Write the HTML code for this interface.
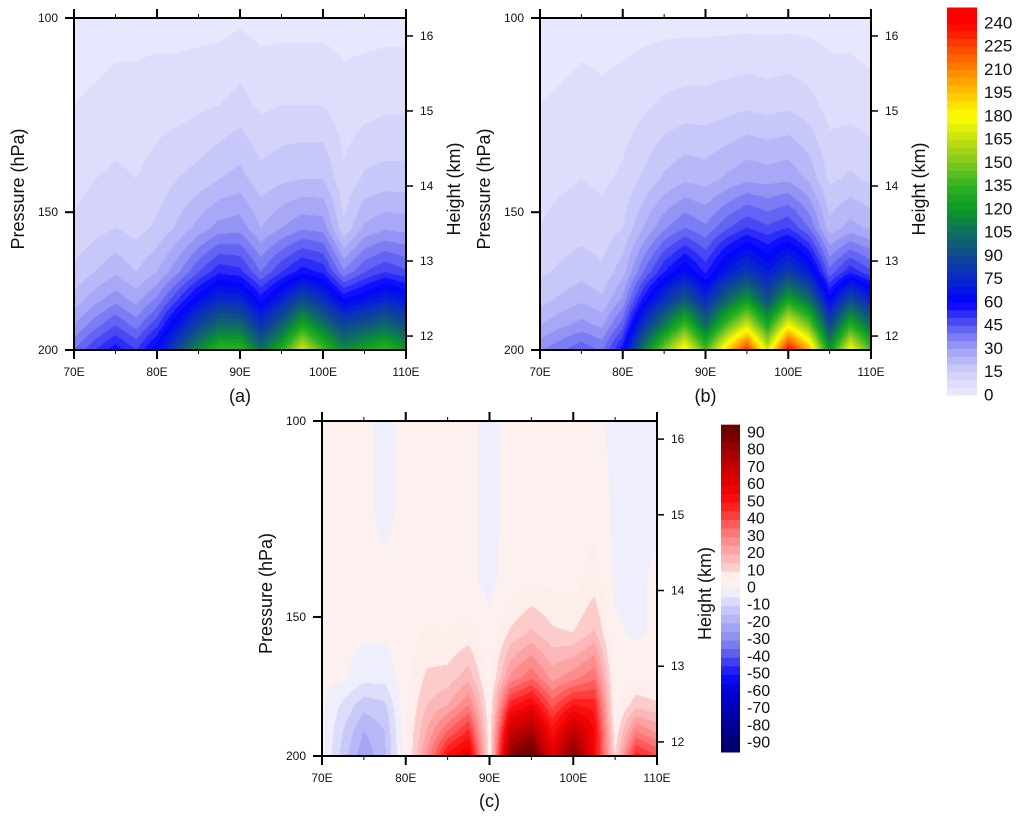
<!DOCTYPE html>
<html><head><meta charset="utf-8">
<style>
html,body{margin:0;padding:0;background:#fff;}
#wrap{position:relative;width:1024px;height:820px;overflow:hidden;font-family:"Liberation Sans",sans-serif;}
canvas{position:absolute;}
svg{position:absolute;left:0;top:0;}
</style></head>
<body>
<div id="wrap">
<canvas id="cva"></canvas>
<canvas id="cvb"></canvas>
<canvas id="cvc"></canvas>
<svg id="ov" width="1024" height="820"></svg>
</div>
<script>
// ---- data ----
const lons = [70,72.5,75,77.5,80,82.5,85,87.5,90,92.5,95,97.5,100,102.5,105,107.5,110];
const levels = [100,120,140,155,170,180,190,200];
const fieldA = [
[2,2,3,3,3,3,3,3,4,3,3,3,3,3,3,3,3],
[5,6,7,7,8,8,9,10,12,9,10,10,10,7,8,9,9],
[8,10,11,10,12,15,17,20,22,17,19,20,20,11,16,17,17],
[11,13,15,13,16,21,27,32,33,25,30,34,33,16,26,29,28],
[16,20,24,20,25,34,45,54,52,40,50,58,54,36,45,50,46],
[22,28,33,28,36,50,64,76,74,58,72,90,78,60,66,74,68],
[30,38,45,38,49,68,88,103,102,80,99,128,106,88,95,103,92],
[40,50,58,50,64,90,115,135,135,105,130,170,140,115,125,135,120]];
const fieldB = [
[2,2,3,3,3,3,3,3,3,3,3,3,3,3,3,3,2],
[5,6,7,6,7,9,11,12,12,13,14,13,14,12,8,8,7],
[8,9,10,9,11,16,21,24,23,26,29,28,29,24,14,16,14],
[10,12,13,12,15,25,34,40,36,44,50,46,50,40,22,27,24],
[14,16,18,16,23,40,55,66,54,70,82,70,84,70,42,54,46],
[18,21,24,21,31,57,78,96,75,100,120,92,124,104,62,90,72],
[25,29,32,29,43,80,110,138,103,140,170,128,178,148,88,132,103],
[34,39,44,39,58,110,150,185,140,190,230,170,240,200,120,180,140]];
const fieldC = [
[1,1,1,-1,1,1,1,1,-1,1,1,1,1,1,-1,-1,-1],
[1,1,1,-1,1,1,1,1,-1,1,2,2,2,3,-1,-1,-1],
[1,1,1,1,1,1,1,1,-1,2,5,4,3,8,-1,-1,1],
[1,1,1,1,2,6,5,7,1,11,16,11,10,16,1,-1,1],
[1,1,-3,-3,3,11,12,18,3,26,34,23,28,34,2,5,4],
[1,-6,-13,-11,4,15,20,30,5,48,56,38,50,48,3,13,11],
[1,-10,-20,-15,4,20,35,46,6,70,78,52,72,55,6,30,24],
[1,-12,-24,-16,3,26,52,62,6,85,95,62,88,55,10,48,40]];
const lonTicks = [70,80,90,100,110];
const lonLabels = ["70E","80E","90E","100E","110E"];
const presTicks = [100,150,200];
const hgtTicks = [16,15,14,13,12];
const cbLabelsAB = [240,225,210,195,180,165,150,135,120,105,90,75,60,45,30,15,0];
const cbLabelsC = [90,80,70,60,50,40,30,20,10,0,-10,-20,-30,-40,-50,-60,-70,-80,-90];

// ---- colormaps ----
const stopsAB = [[0,"#ececfd"],[15,"#cfcffa"],[30,"#a0a0f5"],[45,"#5858f2"],[60,"#0000ff"],[75,"#0a28cc"],[90,"#0e4a8e"],[105,"#0f6e62"],[120,"#0a9a24"],[135,"#2eb222"],[150,"#80c820"],[165,"#c2e010"],[180,"#ffff00"],[195,"#ffc200"],[210,"#ff8400"],[225,"#ff4400"],[240,"#ff0000"]];
const stopsC = [[-90,"#000070"],[-80,"#000098"],[-70,"#0000b4"],[-60,"#0000da"],[-50,"#1010f8"],[-40,"#5050ee"],[-30,"#8a8af2"],[-20,"#aeaef6"],[-10,"#d0d0fa"],[-5,"#e8e8fc"],[0,"#f3f3fd"],[0.01,"#fdf2f0"],[8,"#fdeeec"],[10,"#fcd6d4"],[20,"#fcaeae"],[30,"#fd8282"],[40,"#fe4c4c"],[50,"#ff1010"],[60,"#e80000"],[70,"#c80000"],[80,"#a00000"],[90,"#700000"]];
function hex(h){return [parseInt(h.substr(1,2),16),parseInt(h.substr(3,2),16),parseInt(h.substr(5,2),16)];}
function cmap(stops,v){
  if(v<=stops[0][0]) return hex(stops[0][1]);
  for(let i=1;i<stops.length;i++){
    if(v<=stops[i][0]){const a=stops[i-1],b=stops[i];const t=(v-a[0])/(b[0]-a[0]);const c1=hex(a[1]),c2=hex(b[1]);
      return [0,1,2].map(k=>Math.round(c1[k]+(c2[k]-c1[k])*t));}
  }
  return hex(stops[stops.length-1][1]);
}
function quant(v,step,neg){
  if(neg){ if(v>=0) return Math.floor(v/step)*step+step*0.5; return Math.ceil(v/step)*step-step*0.5; }
  return Math.floor(v/step)*step+step*0.5;
}
function interp(field,lon,p){
  let i=0; while(i<lons.length-2 && lon>lons[i+1]) i++;
  let j=0; while(j<levels.length-2 && p>levels[j+1]) j++;
  const tx=Math.max(0,Math.min(1,(lon-lons[i])/(lons[i+1]-lons[i])));
  const ty=Math.max(0,Math.min(1,(Math.log(p)-Math.log(levels[j]))/(Math.log(levels[j+1])-Math.log(levels[j]))));
  const a=field[j][i],b=field[j][i+1],c=field[j+1][i],d=field[j+1][i+1];
  return (a*(1-tx)+b*tx)*(1-ty)+(c*(1-tx)+d*tx)*ty;
}
const NS="http://www.w3.org/2000/svg";
const ov=document.getElementById('ov');
function el(tag,attrs,parent){const e=document.createElementNS(NS,tag);for(const k in attrs)e.setAttribute(k,attrs[k]);(parent||ov).appendChild(e);return e;}
function txt(s,x,y,size,anchor,parent,rot){const t=el('text',{x:x,y:y,'font-size':size,'text-anchor':anchor||'middle','dominant-baseline':'central',fill:'#111','font-family':'"Liberation Sans",sans-serif'},parent);if(rot)t.setAttribute('transform','rotate(-90 '+x+' '+y+')');t.textContent=s;return t;}

function panel(id,field,stops,step,neg,L,T,W,H,letter,letterY){
  const xs=lon=>L+(lon-70)/40*W;
  const ys=p=>T+Math.log(p/100)/Math.log(2)*H;
  const cv=document.getElementById(id);cv.width=W;cv.height=H;cv.style.left=L+'px';cv.style.top=T+'px';
  const ctx=cv.getContext('2d');const img=ctx.createImageData(W,H);
  for(let y=0;y<H;y++){const p=100*Math.pow(2,(y+0.5)/H);
    for(let x=0;x<W;x++){const lon=70+40*(x+0.5)/W;
      const v=quant(interp(field,lon,p),step,neg);const c=cmap(stops,v);const o=(y*W+x)*4;
      img.data[o]=c[0];img.data[o+1]=c[1];img.data[o+2]=c[2];img.data[o+3]=255;}}
  ctx.putImageData(img,0,0);
  const g=el('g',{});
  
  
  const fr=el('rect',{x:L,y:T,width:W,height:H,fill:'none',stroke:'#000','stroke-width':2},g);
  
  
  for(let lon=70;lon<=110;lon+=5){const x=xs(lon);const maj=lon%10===0;const len=maj?9:4;
    el('line',{x1:x,y1:T+H,x2:x,y2:T+H+len,stroke:'#000','stroke-width':maj?2:1},g);
    el('line',{x1:x,y1:T,x2:x,y2:T-len,stroke:'#000','stroke-width':maj?2:1},g);}
  lonTicks.forEach((lon,i)=>{const t=txt(lonLabels[i],xs(lon),T+H+22,12,'middle',g);
    
    });
  presTicks.forEach(p=>{const y=ys(p);el('line',{x1:L-9,y1:y,x2:L,y2:y,stroke:'#000','stroke-width':2},g);
    const t=txt(String(p),L-16,y,12,'end',g);
    
    });
  hgtTicks.forEach(h=>{const y=T+H*(0.054+(16-h)*0.226);el('line',{x1:L+W,y1:y,x2:L+W+7,y2:y,stroke:'#000','stroke-width':1.5},g);
    const t=txt(String(h),L+W+14,y,12,'start',g);
    
    });
  const pt=txt('Pressure (hPa)',L-56,T+H/2+5,18,'middle',g,true);
  
  
  const ht=txt('Height (km)',L+W+48,T+H/2+5,18,'middle',g,true);
  
  
  const lt=txt('('+letter+')',L+W/2,letterY,18,'middle',g);
  
  
}
panel('cva',fieldA,stopsAB,5,false,74,18,332,332,'a',396);
panel('cvb',fieldB,stopsAB,5,false,540,18,331,332,'b',396);
panel('cvc',fieldC,stopsC,5,true,322,421,335,335,'c',801);

function colorbar(name,stops,vmin,vmax,step,X,Y0,Y1,Wd,labels,fs,lx){
  const g=el('g',{});
  
  
  const sc=v=>Y1-(v-vmin)/(vmax-vmin)*(Y1-Y0);
  for(let v=vmin;v<vmax-0.001;v+=step){const c=cmap(stops,v+step/2);
    const r=el('rect',{x:X,y:sc(v+step),width:Wd,height:sc(v)-sc(v+step)+0.5,fill:'rgb('+c.join(',')+')'},g);
    
    }
  labels.forEach(v=>{const t=txt(String(v),lx,sc(v),fs,'start',g);
    
    });
}
colorbar('colorbar-ab',stopsAB,0,245.8,5,947,14,395,30,cbLabelsAB,17,984);
colorbar('colorbar-c',stopsC,-95.2,94.6,5,721,425,752,19,cbLabelsC,16,747);
</script>
</body></html>
